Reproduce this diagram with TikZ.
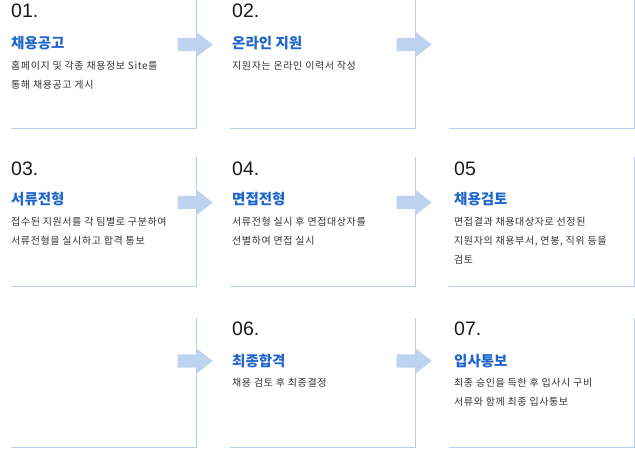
\documentclass[tikz,border=0pt]{standalone}
\usepackage{fontspec}
\setmainfont{Liberation Sans}
\newfontfamily\kr{Noto Sans CJK KR}
\newfontfamily\krdesc[LetterSpace=6]{Noto Sans CJK KR}
\usetikzlibrary{shapes.arrows}
\definecolor{framebl}{RGB}{184,205,234}
\definecolor{flowbl}{RGB}{189,211,239}
\definecolor{titleblue}{RGB}{30,102,204}
\definecolor{descgray}{RGB}{51,51,51}

\begin{document}
\begin{tikzpicture}[x=1pt,y=-1pt,
 num/.style={anchor=base west,inner sep=0,font=\fontsize{19.5}{20}\selectfont,text=black!90},
 ttl/.style={anchor=base west,inner sep=0,font=\kr\bfseries\fontsize{14.5}{16}\selectfont,text=titleblue},
 desc/.style={anchor=base west,inner sep=0,align=left,font=\krdesc\fontsize{10}{19}\selectfont,text=descgray},
 frame/.style={draw=framebl,line width=1pt},
 flow/.style={single arrow,fill=flowbl,draw=none,inner xsep=0,inner ysep=6.5pt,minimum height=35pt,single arrow head extend=6pt,single arrow tip angle=76,anchor=tip}
]
\useasboundingbox (0,0) rectangle (635,450);
% frames
\draw[frame] (11,128)--(196.5,128)--(196.5,-1); \draw[frame] (230,128)--(415.5,128)--(415.5,-1); \draw[frame] (449,128)--(634,128)--(634,-1);
\draw[frame] (11,286)--(196.5,286)--(196.5,157); \draw[frame] (230,286)--(415.5,286)--(415.5,157); \draw[frame] (449,286)--(634,286)--(634,157);
\draw[frame] (11,447)--(196.5,447)--(196.5,318); \draw[frame] (230,447)--(415.5,447)--(415.5,318); \draw[frame] (449,447)--(634,447)--(634,318);
% arrows
\node[flow] (f1) at (213,44.5) {}; \node[flow] (f2) at (432,44.5) {};
\node[flow] (f3) at (213,202.5) {}; \node[flow] (f4) at (432,202.5) {};
\node[flow] (f5) at (213,361) {}; \node[flow] (f6) at (432,361) {};
% row 1 (desc nodes sit on the baseline of their last line)
\node[num] (n1) at (11,17.5) {01.}; \node[ttl] (t1) at (11,48) {채용공고};
\node[desc] (d1) at (11,88.8) {홈페이지 및 각종 채용정보 Site를\\통해 채용공고 게시};
\node[num] (n2) at (232,17.5) {02.}; \node[ttl] (t2) at (232,48) {온라인 지원};
\node[desc] (d2) at (232,69.8) {지원자는 온라인 이력서 작성};
% row 2
\node[num] (n3) at (11,175.5) {03.}; \node[ttl] (t3) at (11,204) {서류전형};
\node[desc] (d3) at (11,244.5) {접수된 지원서를 각 팀별로 구분하여\\서류전형을 실시하고 합격 통보};
\node[num] (n4) at (232,175.5) {04.}; \node[ttl] (t4) at (232,204) {면접전형};
\node[desc] (d4) at (232,244.5) {서류전형 실시 후 면접대상자를\\선별하여 면접 실시};
\node[num] (n5) at (454,175.5) {05}; \node[ttl] (t5) at (454,204) {채용검토};
\node[desc] (d5) at (454,263.5) {면접결과 채용대상자로 선정된\\지원자의 채용부서, 연봉, 직위 등을\\검토};
% row 3
\node[num] (n6) at (232,335.5) {06.}; \node[ttl] (t6) at (232,366) {최종합격};
\node[desc] (d6) at (232,386.3) {채용 검토 후 최종결정};
\node[num] (n7) at (454,335.5) {07.}; \node[ttl] (t7) at (454,366) {입사통보};
\node[desc] (d7) at (454,405.3) {최종 승인을 득한 후 입사시 구비\\서류와 함께 최종 입사통보};
\end{tikzpicture}
\end{document}
